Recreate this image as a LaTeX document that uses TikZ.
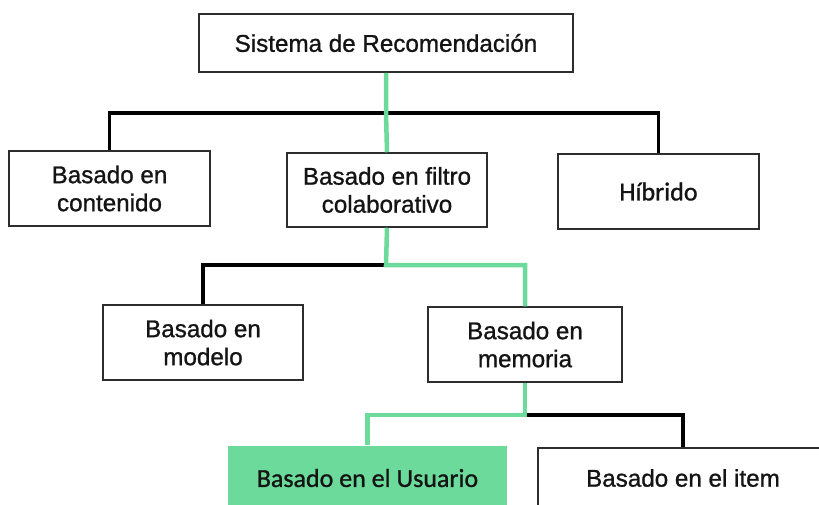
\documentclass[tikz,border=0pt]{standalone}
\usepackage{fontspec}
\setmainfont{Liberation Sans}
\newfontfamily\arfont{Liberation Sans}[FakeBold=1]
\newfontfamily\calfont{Carlito}[FakeBold=1]
\definecolor{grn}{RGB}{107,218,154}
\definecolor{bord}{RGB}{45,45,45}
\definecolor{txt}{RGB}{20,20,20}
\begin{document}
\begin{tikzpicture}[x=1pt,y=-1pt,
  box/.style={draw=bord,line width=1.5pt,fill=white,rectangle,inner sep=0pt,
    text=txt,align=center,font=\arfont\fontsize{24.2}{28}\selectfont},
  calbox/.style={box,font=\calfont\fontsize{26}{30}\selectfont},
  blk/.style={draw=black,line width=3.2pt},
  grline/.style={draw=grn,line width=4.5pt}]
\useasboundingbox (0,0) rectangle (819,504);
\clip (0,0) rectangle (819,504);
% nodes
\node[box,minimum width=374pt,minimum height=58pt] (top) at (386,43) {Sistema de Recomendación};
\node[box,minimum width=201pt,minimum height=75pt] (cont) at (109.5,188.5) {Basado en\\contenido};
\node[box,minimum width=200pt,minimum height=74pt] (filt) at (387,190) {Basado en filtro\\colaborativo};
\node[calbox,minimum width=201pt,minimum height=75pt] (hib) at (658.5,191.5) {Híbrido};
\node[box,minimum width=200pt,minimum height=75pt] (mod) at (203,342.5) {Basado en\\modelo};
\node[box,minimum width=194pt,minimum height=75pt] (mem) at (525,344.5) {Basado en\\memoria};
\node[calbox,draw=none,fill=grn,minimum width=279pt,minimum height=64pt] (usu) at (367.5,478) {Basado en el Usuario};
\node[box,minimum width=290pt,minimum height=60pt] (item) at (683,478) {Basado en el item};
% junctions
\coordinate (j1) at (386,113);
\coordinate (j2) at (386,265);
\coordinate (j3) at (525,415);
% black connectors
\draw[blk] (j1) -| (cont.north);
\draw[blk] (j1) -| (hib.north);
\draw[blk] (j2) -| (mod.north);
\draw[blk] (j3) -| (item.north);
% green path
\draw[grline] (top.south) -- (j1) -- (filt.north);
\draw[grline] (filt.south) -- (j2) -| (mem.north);
\draw[grline] (mem.south) -- (j3) -| (usu.north);
\end{tikzpicture}
\end{document}
